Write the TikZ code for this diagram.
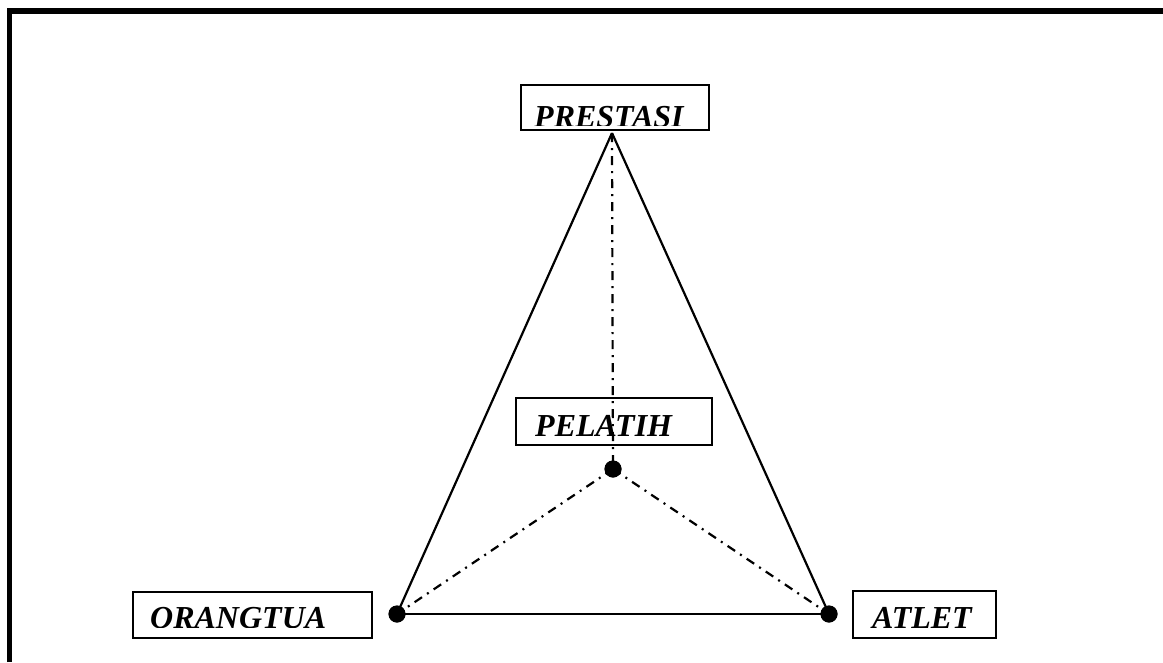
\documentclass[tikz,border=0pt]{standalone}
\usepackage{fontspec}
\setmainfont{Liberation Serif}
\begin{document}
\begin{tikzpicture}[x=1pt,y=-1pt,
  box/.style={draw, line width=2pt, inner sep=0pt},
  lbl/.style={anchor=base west, inner sep=0pt, font=\fontsize{32}{38}\selectfont\bfseries\itshape},
  solidline/.style={line width=2.2pt},
  dd/.style={line width=2.2pt, dash pattern=on 9pt off 6pt on 2pt off 6pt},
  dot/.style={circle, fill=black, inner sep=0pt, minimum size=17pt}]
\useasboundingbox (0,0) rectangle (1163,662);
% frame
\draw[line width=5.5pt] (9.5,662) -- (9.5,11) -- (1163,11);
% boxes
\node[box, minimum width=188pt, minimum height=45pt] (bp) at (615,107.5) {};
\node[box, minimum width=196pt, minimum height=47pt] (bl) at (614,421.5) {};
\node[box, minimum width=239pt, minimum height=46pt] (bo) at (252.5,615) {};
\node[box, minimum width=143pt, minimum height=47pt] (ba) at (924.5,614.5) {};
% labels (bottoms clipped as in the original)
\begin{scope}
\clip (521,86) rectangle (709,125.5);
\node[lbl] (tp) at (534,127) {PRESTASI};
\end{scope}
\begin{scope}
\clip (516,399) rectangle (712,435.5);
\node[lbl] (tl) at (535,436.5) {PELATIH};
\end{scope}
\begin{scope}
\clip (133,593) rectangle (372,627.5);
\node[lbl] (to) at (150,628.5) {ORANGTUA};
\end{scope}
\begin{scope}
\clip (853,592) rectangle (996,627.5);
\node[lbl] (ta) at (872,628.5) {ATLET};
\end{scope}
% points
\coordinate (apex) at (612,133);
\node[dot] (dl) at (613,469) {};
\node[dot] (do) at (397,614) {};
\node[dot] (da) at (829,614) {};
% connectors
\draw[solidline] (apex) -- (do.center);
\draw[solidline] (apex) -- (da.center);
\draw[solidline] (do.center) -- (da.center);
\draw[dd] (apex) -- (dl.center);
\draw[dd] (dl.center) -- (do.center);
\draw[dd] (dl.center) -- (da.center);
\node[dot] at (dl) {};
\node[dot] at (do) {};
\node[dot] at (da) {};
\end{tikzpicture}
\end{document}
